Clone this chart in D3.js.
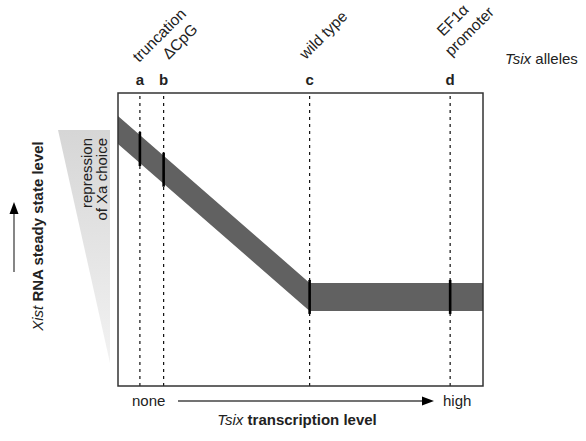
<!DOCTYPE html>
<html>
<head>
<meta charset="utf-8">
<script src="https://cdn.jsdelivr.net/npm/d3@7"></script>
<style>
  body { margin: 0; background: #fff; }
  svg { display: block; font-family: "Liberation Sans", Arial, sans-serif; }
</style>
</head>
<body>
<svg id="chart" width="586" height="441"></svg>
<script>
// Tsix alleles vs Xist RNA level schematic

const alleles     = ["a", "b", "c", "d"];
const alleleNames = [["truncation"], ["\u0394CpG"], ["wild type"], ["EF1\u03b1", "promoter"]];
const tsixLevels  = [0.06, 0.125, 0.525, 0.91];   // position on Tsix transcription axis (0..1)

// Xist band profile: Tsix level -> Xist steady state level
const bandTsix = [0, 0.525, 1];
const bandXist = [0.874, 0.304, 0.304];

// label offsets relative to each allele line (layout only)
const labelOffsets = [[[-1, 63]], [[5, 60]], [[-4, 60]], [[-7, 37], [1, 57]]];

const svg = d3.select("#chart");
const box = { left: 118, top: 93, right: 483, bottom: 386 };

const x = d3.scaleLinear().domain([0, 1]).range([box.left, box.right]);
const y = d3.scaleLinear().domain([0, 1]).range([box.bottom, box.top]);
const xist = d3.scaleLinear().domain(bandTsix).range(bandXist);

const bandHalf = 14;
const ink = "#222";

// gradient for the repression wedge
const defs = svg.append("defs");
const grad = defs.append("linearGradient")
    .attr("id", "wedge").attr("x1", 0).attr("y1", 0).attr("x2", 0).attr("y2", 1);
grad.append("stop").attr("offset", "0%").attr("stop-color", "#d6d6d6");
grad.append("stop").attr("offset", "100%").attr("stop-color", "#f2f2f2");

svg.append("path")
    .attr("d", "M58,130 L110,130 L110,363 Z")
    .attr("fill", "url(#wedge)");

svg.append("text")
    .attr("transform", "translate(92,138) rotate(-90)")
    .attr("text-anchor", "end")
    .attr("font-size", "15px")
    .attr("fill", ink)
    .selectAll("tspan")
    .data(["repression", "of Xa choice"])
    .join("tspan")
    .attr("x", 0)
    .attr("dy", (d, i) => i ? 15 : 0)
    .text(d => d);

// band
const area = d3.area()
    .x(d => x(d))
    .y0(d => y(xist(d)) - bandHalf)
    .y1(d => y(xist(d)) + bandHalf);

svg.append("path")
    .datum(bandTsix)
    .attr("d", area)
    .attr("fill", "#616161");

// dashed allele lines
svg.append("g")
    .selectAll("line")
    .data(tsixLevels)
    .join("line")
    .attr("x1", d => x(d)).attr("x2", d => x(d))
    .attr("y1", box.top + 3).attr("y2", box.bottom)
    .attr("stroke", "#111")
    .attr("stroke-width", 1.2)
    .attr("stroke-dasharray", "3,4");

// black allele marks on the band
svg.append("g")
    .selectAll("line")
    .data(tsixLevels)
    .join("line")
    .attr("x1", d => x(d)).attr("x2", d => x(d))
    .attr("y1", d => y(xist(d)) - 17)
    .attr("y2", d => y(xist(d)) + 17)
    .attr("stroke", "#000")
    .attr("stroke-width", 2.6);

// frame
svg.append("rect")
    .attr("x", box.left).attr("y", box.top)
    .attr("width", box.right - box.left)
    .attr("height", box.bottom - box.top)
    .attr("fill", "none")
    .attr("stroke", "#333")
    .attr("stroke-width", 1.5);

// allele letters
svg.append("g")
    .selectAll("text")
    .data(alleles)
    .join("text")
    .attr("x", (d, i) => x(tsixLevels[i]))
    .attr("y", 85)
    .attr("text-anchor", "middle")
    .attr("font-size", "15px")
    .attr("font-weight", "bold")
    .attr("fill", ink)
    .text(d => d);

// rotated allele names
alleleNames.forEach((lines, i) => {
    lines.forEach((t, j) => {
        const [dx, dy] = labelOffsets[i][j];
        svg.append("text")
            .attr("transform", `translate(${x(tsixLevels[i]) + dx},${dy}) rotate(-45)`)
            .attr("font-size", "15.5px")
            .attr("fill", ink)
            .text(t);
    });
});

const legend = svg.append("text")
    .attr("x", 505).attr("y", 64)
    .attr("font-size", "15px")
    .attr("fill", ink);
legend.append("tspan").attr("font-style", "italic").text("Tsix");
legend.append("tspan").text(" alleles");

// bottom axis arrow
svg.append("line")
    .attr("x1", 178).attr("x2", 424)
    .attr("y1", 401).attr("y2", 401)
    .attr("stroke", "#444").attr("stroke-width", 1.3);
svg.append("path")
    .attr("d", "M434,401 L422,396.5 L422,405.5 Z")
    .attr("fill", "#000");

svg.append("text")
    .attr("x", 132).attr("y", 406)
    .attr("font-size", "15px").attr("fill", ink)
    .text("none");
svg.append("text")
    .attr("x", 443).attr("y", 406)
    .attr("font-size", "15px").attr("fill", ink)
    .text("high");

const xTitle = svg.append("text")
    .attr("x", 297).attr("y", 425)
    .attr("text-anchor", "middle")
    .attr("font-size", "15px")
    .attr("fill", ink);
xTitle.append("tspan").attr("font-style", "italic").text("Tsix");
xTitle.append("tspan").attr("font-weight", "bold").text(" transcription level");

// left axis arrow + title
svg.append("line")
    .attr("x1", 14).attr("x2", 14)
    .attr("y1", 272).attr("y2", 212)
    .attr("stroke", "#444").attr("stroke-width", 1.3);
svg.append("path")
    .attr("d", "M14,202 L9.5,214 L18.5,214 Z")
    .attr("fill", "#000");

const yTitle = svg.append("text")
    .attr("transform", "translate(43,236) rotate(-90)")
    .attr("text-anchor", "middle")
    .attr("font-size", "15px")
    .attr("fill", ink);
yTitle.append("tspan").attr("font-style", "italic").text("Xist");
yTitle.append("tspan").attr("font-weight", "bold").text(" RNA steady state level");
</script>
</body>
</html>
